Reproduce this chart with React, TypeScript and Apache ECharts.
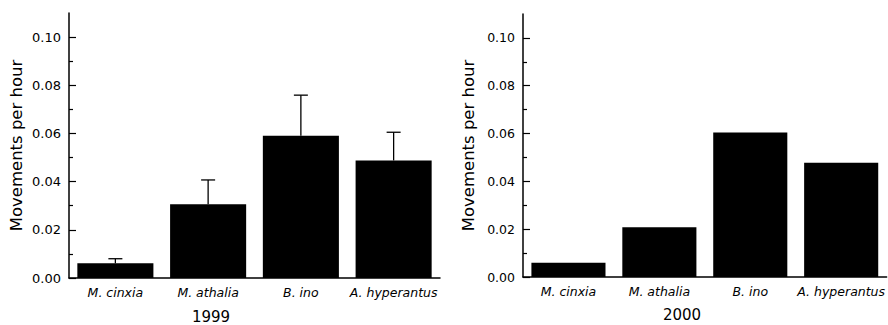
import React, { useEffect, useRef } from "react";
import * as echarts from "echarts";

const categories = ["M. cinxia", "M. athalia", "B. ino", "A. hyperantus"];
const values1999 = [0.0061, 0.0306, 0.059, 0.0488];
const upperError1999 = [0.0019, 0.0101, 0.0169, 0.0117];
const values2000 = [0.006, 0.0208, 0.0604, 0.0478];
const yMajorTicks = [0, 0.02, 0.04, 0.06, 0.08, 0.1];
const yMinorTicks = [0.01, 0.03, 0.05, 0.07, 0.09];
const years = ["1999", "2000"];
const yTitle = "Movements per hour";

const FONT = "DejaVu Sans";

function majorAxis(gridIndex: number, labelSize: number, nameGap: number) {
  return {
    type: "value",
    gridIndex,
    min: 0,
    max: 0.11,
    interval: 0.02,
    name: yTitle,
    nameLocation: "middle",
    nameGap,
    nameTextStyle: { fontFamily: FONT, fontSize: 16.5, color: "#000" },
    axisLine: { show: true, lineStyle: { color: "#000", width: 1.5 } },
    axisTick: { show: true, inside: true, length: 7, customValues: yMajorTicks, lineStyle: { color: "#000", width: 1.2 } },
    axisLabel: {
      customValues: yMajorTicks,
      formatter: (v: number) => v.toFixed(2),
      fontFamily: FONT,
      fontSize: labelSize,
      color: "#000",
      margin: 8,
    },
    splitLine: { show: false },
  };
}

function minorAxis(gridIndex: number) {
  return {
    type: "value",
    gridIndex,
    min: 0,
    max: 0.11,
    interval: 0.01,
    position: "left",
    offset: 0,
    axisLine: { show: false },
    axisTick: { show: true, inside: true, length: 4, customValues: yMinorTicks, lineStyle: { color: "#000", width: 1.2 } },
    axisLabel: { show: false },
    splitLine: { show: false },
  };
}

function catAxis(gridIndex: number) {
  return {
    type: "category",
    gridIndex,
    data: categories,
    axisLine: { show: true, lineStyle: { color: "#000", width: 1.5 } },
    axisTick: { show: false },
    axisLabel: {
      interval: 0,
      fontFamily: FONT,
      fontStyle: "italic",
      fontSize: 12.5,
      color: "#000",
      margin: 8,
    },
    splitLine: { show: false },
  };
}

export default function App() {
  const ref = useRef<HTMLDivElement>(null);
  useEffect(() => {
    if (!ref.current) return;
    const chart = echarts.init(ref.current, undefined, { renderer: "svg" });
    const errorData = categories.map((_, i) => [i, values1999[i], upperError1999[i]]);
    chart.setOption({
      animation: false,
      backgroundColor: "#fff",
      grid: [
        { left: 69, right: 448, top: 13, bottom: 47 },
        { left: 523, right: 1, top: 14, bottom: 48 },
      ],
      xAxis: [catAxis(0), catAxis(1)],
      yAxis: [majorAxis(0, 13, 44), minorAxis(0), majorAxis(1, 12.5, 46), minorAxis(1)],
      series: [
        {
          type: "bar",
          xAxisIndex: 0,
          yAxisIndex: 0,
          data: values1999,
          barCategoryGap: "18%",
          itemStyle: { color: "#000" },
        },
        {
          type: "custom",
          xAxisIndex: 0,
          yAxisIndex: 0,
          z: 5,
          data: errorData,
          renderItem: (params: any, api: any) => {
            const x = api.value(0);
            const v = api.value(1);
            const e = api.value(2);
            const base = api.coord([x, v]);
            const top = api.coord([x, v + e]);
            const half = 7;
            const style = { stroke: "#000", lineWidth: 1.3 };
            return {
              type: "group",
              children: [
                { type: "line", shape: { x1: base[0], y1: base[1], x2: top[0], y2: top[1] }, style },
                { type: "line", shape: { x1: top[0] - half, y1: top[1], x2: top[0] + half, y2: top[1] }, style },
              ],
            };
          },
        },
        {
          type: "bar",
          xAxisIndex: 1,
          yAxisIndex: 2,
          data: values2000,
          barCategoryGap: "18.5%",
          itemStyle: { color: "#000" },
        },
      ],
      graphic: [
        {
          type: "text",
          x: 211,
          y: 317,
          style: { text: years[0], font: `15px "${FONT}"`, fill: "#000", textAlign: "center", textVerticalAlign: "middle" },
        },
        {
          type: "text",
          x: 682,
          y: 315,
          style: { text: years[1], font: `15px "${FONT}"`, fill: "#000", textAlign: "center", textVerticalAlign: "middle" },
        },
      ],
    });
    return () => chart.dispose();
  }, []);
  return <div ref={ref} style={{ position: "fixed", left: 0, top: 0, width: 888, height: 325 }} />;
}
